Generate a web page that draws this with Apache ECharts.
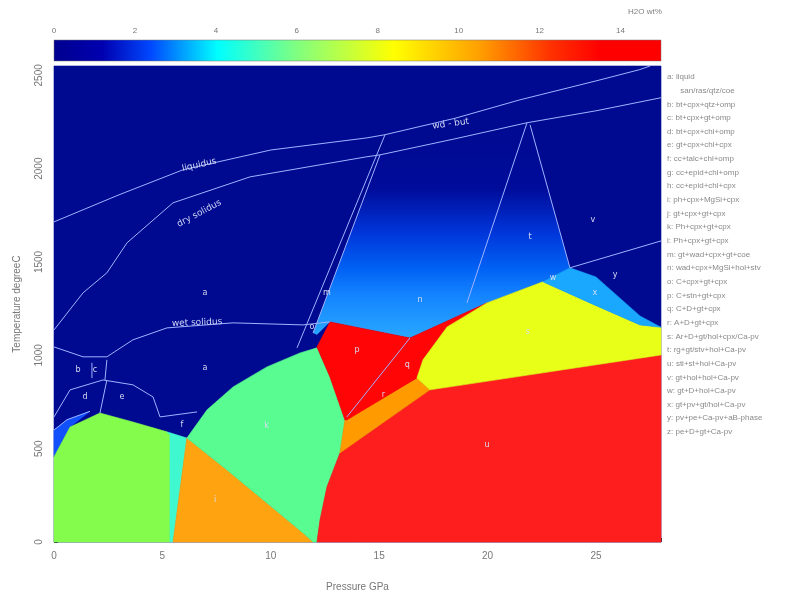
<!DOCTYPE html>
<html><head><meta charset="utf-8">
<script src="https://cdn.jsdelivr.net/npm/echarts@6/dist/echarts.min.js"></script>
<style>html,body{margin:0;padding:0;background:#fff}#c{width:807px;height:597px}</style>
</head><body><div id="c"></div>
<script>
// ---- axes ----
const pressureTicks = [0, 5, 10, 15, 20, 25];
const temperatureTicks = [0, 500, 1000, 1500, 2000, 2500];
const colorbarTicks = [0, 2, 4, 6, 8, 10, 12, 14];
const pressureRange = [0, 28];
const temperatureRange = [0, 2550];
const waterRange = [0, 15];

// ---- phase fields [P GPa, T degC] ----
const fieldBackground = [[0,0],[28,0],[28,2550],[0,2550]];
const fieldLime = [[0,456],[0.74,616],[2.12,691],[3.64,643],[5.21,590],[5.35,573],[5.35,0],[0,0]];
const fieldCyanStrip = [[5.21,590],[6.13,557],[5.49,0],[5.35,0],[5.35,573]];
const fieldOrange = [[6.13,557],[7.98,386],[9.82,209],[11.49,48],[11.95,0],[5.49,0]];
const fieldAqua = [[6.13,557],[7.06,708],[8.26,831],[9.82,938],[11.35,1013],[12.13,1040],[12.73,884],[13.42,654],[13.19,477],[12.59,295],[12.27,118],[12.13,0],[11.95,0],[11.49,48],[9.82,209],[7.98,386]];
const fieldRedUpper = [[12.13,1045],[12.73,1179],[16.42,1093],[19.97,1281],[18.13,1152],[17.02,976],[16.74,879],[13.51,654],[13.42,654],[12.73,884]];
const fieldOrangeBand = [[13.42,654],[16.74,879],[17.34,815],[13.19,477]];
const fieldRedLower = [[12.13,0],[12.27,118],[12.59,295],[13.19,477],[17.34,815],[28,1002],[28,0]];
const fieldYellow = [[16.74,879],[17.02,976],[18.13,1152],[19.97,1281],[22.55,1394],[24.72,1281],[27.03,1163],[28,1150],[28,1002],[17.34,815]];
const fieldLightBlue = [[22.55,1394],[23.80,1469],[25.0,1420],[27.03,1211],[28,1150],[27.03,1163],[24.72,1281]];
const fieldGradient = [[15.04,2074],[21.96,2235],[23.80,1469],[22.55,1394],[19.97,1281],[16.42,1093],[12.73,1179],[12.13,1110],[11.95,1120]];
const fieldMidBlue = [[0,456],[0,600],[0.6,655],[1.66,700],[0.74,616]];

// ---- boundary lines ----
const lineLiquidus = [[0,1715],[3,1860],[5.95,1994],[10,2100],[14.44,2165],[15.27,2182],[18.5,2270],[21.5,2369],[25,2470],[27,2530],[27.5,2550]];
const lineDrySolidus = [[0,1136],[1.34,1335],[2.44,1442],[3.37,1603],[5.49,1817],[9.04,1956],[14.44,2064],[15.04,2074],[18.5,2160],[21.82,2246],[25,2310],[28,2380]];
const lineWetSolidus = [[0,1045],[1.34,992],[2.44,992],[3.64,1083],[5.21,1147],[8.26,1174],[11.49,1163],[12.73,1179]];
const lineM1 = [[15.27,2182],[11.21,1040]];
const lineM2 = [[15.04,2074],[11.95,1120]];
const lineR1 = [[21.82,2246],[19.05,1281]];
const lineR2 = [[21.96,2235],[23.80,1469]];
const lineR3 = [[23.80,1469],[28,1613]];
const lineRedSplit = [[16.42,1093],[13.51,670]];
const lineBC = [[1.75,960],[1.75,878]];
const lineBC2 = [[2.44,976],[2.35,868]];
const lineDE = [[0,670],[0.74,815],[2.26,868],[3.64,842],[4.57,777],[4.89,670],[6.6,697]];
const lineDEsplit = [[2.44,868],[2.12,691]];
const lineLeft = [[0,600],[0.6,655],[1.66,700]];

// ---- field letters ----
const fieldLabels = [
  ['a',6.96,1335],['a',6.96,930],['b',1.11,922],['c',1.89,922],['d',1.43,777],['e',3.14,777],
  ['f',5.9,627],['i',7.43,225],['m',12.59,1335],['n',16.88,1297],['o',11.9,1150],['p',13.98,1029],
  ['q',16.3,950],['s',21.86,1126],['u',19.97,520],['t',21.96,1635],['v',24.86,1726],['y',25.88,1431],
  ['w',23.02,1415],['x',24.95,1335],['k',9.8,620],['r',15.2,790]
];
const curveLabels = [
  ['liquidus',6.7,2020,-13],['dry solidus',6.7,1760,-28],['wet solidus',6.6,1175,-2],['wd - but',18.3,2240,-8]
];

// ---- legend ----
const legendLines = [
  'a: liquid','      san/ras/qtz/coe','b: bt+cpx+qtz+omp','c: bt+cpx+gt+omp','d: bt+cpx+chl+omp',
  'e: gt+cpx+chl+cpx','f: cc+talc+chl+omp','g: cc+epid+chl+omp','h: cc+epid+chl+cpx','i: ph+cpx+MgSi+cpx',
  'j: gt+cpx+gt+cpx','k: Ph+cpx+gt+cpx','l: Ph+cpx+gt+cpx','m: gt+wad+cpx+gt+coe','n: wad+cpx+MgSi+hol+stv',
  'o: C+cpx+gt+cpx','p: C+stn+gt+cpx','q: C+D+gt+cpx','r: A+D+gt+cpx','s: Ar+D+gt/hol+cpx/Ca-pv',
  't: rg+gt/stv+hol+Ca-pv','u: sti+st+hol+Ca-pv','v: gt+hol+hol+Ca-pv','w: gt+D+hol+Ca-pv',
  'x: gt+pv+gt/hol+Ca-pv','y: pv+pe+Ca-pv+aB-phase','z: pe+D+gt+Ca-pv'
];

const G = echarts.graphic;
const blueGrad = new G.LinearGradient(0,0,0,1,[
  {offset:0,color:'#000a91'},{offset:0.3,color:'#000c9a'},{offset:0.5,color:'#0034d8'},
  {offset:0.67,color:'#0060f4'},{offset:0.8,color:'#1484ff'},{offset:1,color:'#28a8ff'}]);
const fields = [
  [fieldBackground, '#000a91'],
  [fieldGradient, blueGrad],
  [fieldMidBlue, '#1050ff'],
  [fieldLime, '#84fc4c'],
  [fieldCyanStrip, '#40f8d0'],
  [fieldOrange, '#ffa410'],
  [fieldAqua, '#58fc90'],
  [fieldRedLower, '#ff1e1e'],
  [fieldOrangeBand, '#ff9a00'],
  [fieldRedUpper, '#ff0505'],
  [fieldYellow, '#e8ff18'],
  [fieldLightBlue, '#1aa8ff']
];
const lines = [lineLiquidus,lineDrySolidus,lineWetSolidus,lineM1,lineM2,lineR1,lineR2,lineR3,lineRedSplit,lineBC,lineBC2,lineDE,lineDEsplit,lineLeft];

const chart = echarts.init(document.getElementById('c'), null, {renderer:'canvas'});
const series = [];
series.push({
  type:'custom', xAxisIndex:0, yAxisIndex:0, silent:true, z:1,
  data: fields.map((f,i)=>[i]),
  renderItem:(params, api)=>{
    const f = fields[params.dataIndex];
    return {type:'polygon', shape:{points:f[0].map(p=>api.coord(p))}, style:{fill:f[1], stroke:f[1] === blueGrad ? null : f[1], lineWidth:0.6}};
  }
});
lines.forEach(l=>series.push({type:'line', xAxisIndex:0, yAxisIndex:0, data:l, showSymbol:false, silent:true, z:3,
  lineStyle:{color:'#9fb3ff', width:1}, animation:false}));
series.push({
  type:'custom', xAxisIndex:0, yAxisIndex:0, silent:true, z:5,
  data: fieldLabels.map((f,i)=>[i]),
  renderItem:(params, api)=>{
    const f = fieldLabels[params.dataIndex];
    const c = api.coord([f[1],f[2]]);
    return {type:'text', x:c[0], y:c[1], style:{text:f[0], fill:'#d8dcf0', fontSize:8, fontFamily:'DejaVu Sans', align:'center', verticalAlign:'middle'}};
  }
});
series.push({
  type:'custom', xAxisIndex:0, yAxisIndex:0, silent:true, z:5,
  data: curveLabels.map((f,i)=>[i]),
  renderItem:(params, api)=>{
    const f = curveLabels[params.dataIndex];
    const c = api.coord([f[1],f[2]]);
    return {type:'text', x:c[0], y:c[1], rotation:-f[3]*Math.PI/180, style:{text:f[0], fill:'#d0d6f4', fontSize:9, fontFamily:'DejaVu Sans', align:'center', verticalAlign:'middle'}};
  }
});
// colorbar
series.push({
  type:'custom', xAxisIndex:1, yAxisIndex:1, silent:true,
  data:[[0]],
  renderItem:(params, api)=>{
    const a = api.coord([waterRange[0],1]), b = api.coord([waterRange[1],0]);
    return {type:'rect', shape:{x:a[0], y:a[1], width:b[0]-a[0], height:b[1]-a[1]},
      style:{stroke:'#777', lineWidth:0.5, fill:new G.LinearGradient(0,0,1,0,[
        {offset:0,color:'#00008f'},{offset:0.08,color:'#0000b0'},{offset:0.16,color:'#0048ff'},
        {offset:0.27,color:'#00ffff'},{offset:0.4,color:'#80ff80'},{offset:0.5,color:'#d0ff30'},
        {offset:0.56,color:'#ffff00'},{offset:0.7,color:'#ffa000'},{offset:0.82,color:'#ff3000'},
        {offset:0.9,color:'#ff0000'},{offset:1,color:'#ff0000'}])}};
  }
});

const graphic = legendLines.map((t,i)=>({type:'text', left:667, top:73+i*13.65,
  style:{text:t, fill:'#8a8a8a', fontSize:8, fontFamily:'Liberation Sans'}}));
graphic.push({type:'text', left:628, top:8, style:{text:'H2O wt%', fill:'#808080', fontSize:8, fontFamily:'Liberation Sans'}});

const axisTxt = {color:'#777', fontSize:10, fontFamily:'Liberation Sans'};
chart.setOption({
  animation:false,
  grid:[{left:54, right:146, top:66, bottom:55, show:false},
        {left:54, right:146, top:40, height:21, show:false}],
  xAxis:[
    {type:'value', gridIndex:0, min:pressureRange[0], max:pressureRange[1], interval:5,
     name:'Pressure GPa', nameLocation:'middle', nameGap:40, nameTextStyle:axisTxt,
     axisLine:{show:true, lineStyle:{color:'#ddd'}}, axisTick:{inside:true, length:4, lineStyle:{color:'#333'}},
     minorTick:{show:true, splitNumber:5, length:2, lineStyle:{color:'#333'}},
     splitLine:{show:false}, axisLabel:{...axisTxt, margin:9, showMaxLabel:false, formatter:v=>String(v)}},
    {type:'value', gridIndex:1, min:waterRange[0], max:waterRange[1], interval:2, position:'top',
     axisLine:{show:false}, axisTick:{show:false}, splitLine:{show:false},
     axisLabel:{color:'#777', fontSize:8, fontFamily:'Liberation Sans', margin:5, showMaxLabel:false}}
  ],
  yAxis:[
    {type:'value', gridIndex:0, min:temperatureRange[0], max:temperatureRange[1], interval:500,
     name:'Temperature degreeC', nameLocation:'middle', nameGap:32, nameTextStyle:axisTxt,
     axisLine:{show:true, lineStyle:{color:'#ddd'}}, axisTick:{inside:true, length:4, lineStyle:{color:'#333'}},
     splitLine:{show:false}, axisLabel:{...axisTxt, rotate:90, margin:10, showMaxLabel:false, formatter:v=>String(v)}},
    {type:'value', gridIndex:1, min:0, max:1, show:false}
  ],
  graphic: graphic,
  series: series
});
</script></body></html>
